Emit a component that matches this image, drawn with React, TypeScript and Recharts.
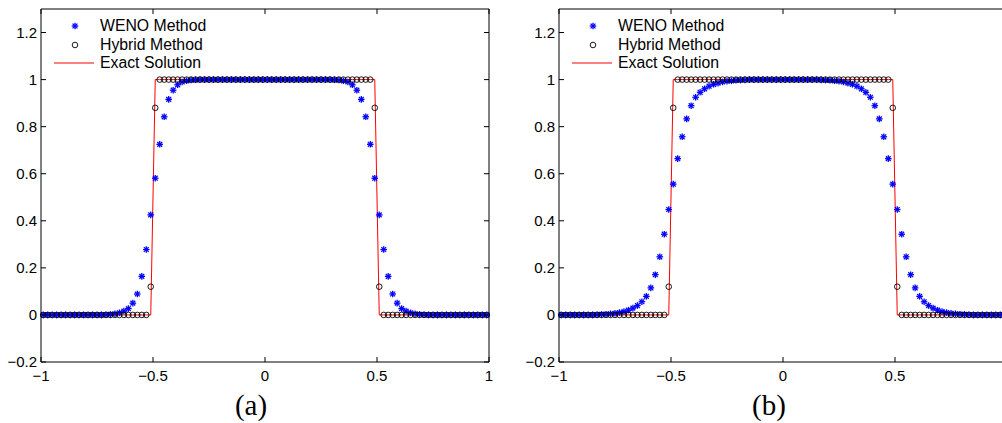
import React from 'react';
import { ComposedChart, Line, XAxis, YAxis, Legend } from 'recharts';

// cell centres, dx = 0.02
const xGrid = [
  -0.99, -0.97, -0.95, -0.93, -0.91, -0.89, -0.87, -0.85, -0.83, -0.81,
  -0.79, -0.77, -0.75, -0.73, -0.71, -0.69, -0.67, -0.65, -0.63, -0.61,
  -0.59, -0.57, -0.55, -0.53, -0.51, -0.49, -0.47, -0.45, -0.43, -0.41,
  -0.39, -0.37, -0.35, -0.33, -0.31, -0.29, -0.27, -0.25, -0.23, -0.21,
  -0.19, -0.17, -0.15, -0.13, -0.11, -0.09, -0.07, -0.05, -0.03, -0.01,
  0.01, 0.03, 0.05, 0.07, 0.09, 0.11, 0.13, 0.15, 0.17, 0.19,
  0.21, 0.23, 0.25, 0.27, 0.29, 0.31, 0.33, 0.35, 0.37, 0.39,
  0.41, 0.43, 0.45, 0.47, 0.49, 0.51, 0.53, 0.55, 0.57, 0.59,
  0.61, 0.63, 0.65, 0.67, 0.69, 0.71, 0.73, 0.75, 0.77, 0.79,
  0.81, 0.83, 0.85, 0.87, 0.89, 0.91, 0.93, 0.95, 0.97, 0.99,
];

const wenoA = [
  0, 0, 0, 0, 0, 0, 0, 0, 0, 0,
  0, 0, 0, 0, 0.001, 0.002, 0.005, 0.009, 0.016, 0.027,
  0.05, 0.089, 0.164, 0.278, 0.425, 0.581, 0.725, 0.842, 0.916, 0.955,
  0.978, 0.99, 0.995, 0.998, 0.999, 1, 1, 1, 1, 1,
  1, 1, 1, 1, 1, 1, 1, 1, 1, 1,
  1, 1, 1, 1, 1, 1, 1, 1, 1, 1,
  1, 1, 1, 1, 1, 0.999, 0.998, 0.995, 0.99, 0.978,
  0.955, 0.916, 0.842, 0.725, 0.581, 0.425, 0.278, 0.164, 0.089, 0.05,
  0.027, 0.016, 0.009, 0.005, 0.002, 0.001, 0, 0, 0, 0,
  0, 0, 0, 0, 0, 0, 0, 0, 0, 0,
];

const wenoB = [
  0, 0, 0, 0, 0, 0, 0, 0, 0.001, 0.002,
  0.003, 0.005, 0.007, 0.01, 0.014, 0.02, 0.029, 0.04, 0.056, 0.079,
  0.115, 0.171, 0.247, 0.343, 0.448, 0.556, 0.664, 0.757, 0.833, 0.889,
  0.925, 0.946, 0.961, 0.972, 0.98, 0.985, 0.99, 0.993, 0.995, 0.997,
  0.998, 0.999, 1, 1, 1, 1, 1, 1, 1, 1,
  1, 1, 1, 1, 1, 1, 1, 1, 0.999, 0.998,
  0.997, 0.995, 0.993, 0.99, 0.985, 0.98, 0.972, 0.961, 0.946, 0.925,
  0.889, 0.833, 0.757, 0.664, 0.556, 0.448, 0.343, 0.247, 0.171, 0.115,
  0.079, 0.056, 0.04, 0.029, 0.02, 0.014, 0.01, 0.007, 0.005, 0.003,
  0.002, 0.001, 0, 0, 0, 0, 0, 0, 0, 0,
];

const hybridValues = [
  0, 0, 0, 0, 0, 0, 0, 0, 0, 0,
  0, 0, 0, 0, 0, 0, 0, 0, 0, 0,
  0, 0, 0, 0, 0.12, 0.88, 1, 1, 1, 1,
  1, 1, 1, 1, 1, 1, 1, 1, 1, 1,
  1, 1, 1, 1, 1, 1, 1, 1, 1, 1,
  1, 1, 1, 1, 1, 1, 1, 1, 1, 1,
  1, 1, 1, 1, 1, 1, 1, 1, 1, 1,
  1, 1, 1, 1, 0.88, 0.12, 0, 0, 0, 0,
  0, 0, 0, 0, 0, 0, 0, 0, 0, 0,
  0, 0, 0, 0, 0, 0, 0, 0, 0, 0,
];

const exactValues = [
  0, 0, 0, 0, 0, 0, 0, 0, 0, 0,
  0, 0, 0, 0, 0, 0, 0, 0, 0, 0,
  0, 0, 0, 0, 0, 1, 1, 1, 1, 1,
  1, 1, 1, 1, 1, 1, 1, 1, 1, 1,
  1, 1, 1, 1, 1, 1, 1, 1, 1, 1,
  1, 1, 1, 1, 1, 1, 1, 1, 1, 1,
  1, 1, 1, 1, 1, 1, 1, 1, 1, 1,
  1, 1, 1, 1, 1, 0, 0, 0, 0, 0,
  0, 0, 0, 0, 0, 0, 0, 0, 0, 0,
  0, 0, 0, 0, 0, 0, 0, 0, 0, 0,
];

const xTicks = [-1, -0.5, 0, 0.5, 1];
const yTicks = [-0.2, 0, 0.2, 0.4, 0.6, 0.8, 1, 1.2];
const legendItems = [
  { name: 'WENO Method', kind: 'star' },
  { name: 'Hybrid Method', kind: 'circle' },
  { name: 'Exact Solution', kind: 'line' },
];

const FONT = '"Liberation Sans", Arial, Helvetica, sans-serif';
const fmt = (v: number) => String(v).replace('-', '\u2212');

const Star = ({ cx, cy }: { cx: number; cy: number }) => {
  const r = 3.3;
  const d = 2.4;
  return (
    <g stroke="#0000ff" strokeWidth={1.3}>
      <line x1={cx - r} y1={cy} x2={cx + r} y2={cy} />
      <line x1={cx} y1={cy - r} x2={cx} y2={cy + r} />
      <line x1={cx - d} y1={cy - d} x2={cx + d} y2={cy + d} />
      <line x1={cx - d} y1={cy + d} x2={cx + d} y2={cy - d} />
    </g>
  );
};

const Ring = ({ cx, cy }: { cx: number; cy: number }) => (
  <circle cx={cx} cy={cy} r={2.8} fill="none" stroke="#000" strokeWidth={0.9} />
);

// MATLAB-style ticks: short lines pointing into the box
const makeBottomTick = (maxX: number) => (props: any) => {
  const { x, y, payload } = props;
  return (
    <g>
      <line x1={x} y1={y} x2={x} y2={y - 5} stroke="#000" />
      {x < maxX && (
        <text x={x} y={y + 19} textAnchor="middle" fontSize={15} fontFamily={FONT} fill="#000">
          {fmt(payload.value)}
        </text>
      )}
    </g>
  );
};
const TopTick = (props: any) => (
  <line x1={props.x} y1={props.y} x2={props.x} y2={props.y + 5} stroke="#000" />
);
const LeftTick = (props: any) => {
  const { x, y, payload } = props;
  return (
    <g>
      <line x1={x} y1={y} x2={x + 5} y2={y} stroke="#000" />
      <text x={x - 4} y={y + 5} textAnchor="end" fontSize={15} fontFamily={FONT} fill="#000">
        {fmt(payload.value)}
      </text>
    </g>
  );
};
const RightTick = (props: any) => (
  <line x1={props.x} y1={props.y} x2={props.x - 5} y2={props.y} stroke="#000" />
);

const renderLegend = () => (
  <div style={{ fontFamily: FONT, fontSize: 15.8, color: '#000' }}>
    {legendItems.map((it) => (
      <div key={it.name} style={{ display: 'flex', alignItems: 'center', height: 18.5, whiteSpace: 'nowrap' }}>
        <svg width={46} height={18} style={{ flex: 'none' }}>
          {it.kind === 'star' && <Star cx={21} cy={9} />}
          {it.kind === 'circle' && <Ring cx={21} cy={9} />}
          {it.kind === 'line' && <line x1={0} y1={9} x2={40} y2={9} stroke="#ff0000" strokeWidth={1} />}
        </svg>
        <span>{it.name}</span>
      </div>
    ))}
  </div>
);

const Panel = ({ weno, label, left }: { weno: number[]; label: string; left: number }) => {
  const data = xGrid.map((x, i) => ({
    x,
    weno: weno[i],
    hybrid: hybridValues[i],
    exact: exactValues[i],
  }));
  // labels that would fall past the page edge are not drawn (as in the original figure)
  const BottomTick = makeBottomTick(1002 - left - 8);
  return (
    <div style={{ position: 'absolute', left, top: 0, width: 500, height: 423 }}>
      <ComposedChart width={500} height={423} data={data} margin={{ top: 8, right: 10, bottom: 60, left: 40 }}>
        <XAxis
          xAxisId="b"
          dataKey="x"
          type="number"
          domain={[-1, 1]}
          ticks={xTicks}
          interval={0}
          height={1}
          tickSize={0}
          tickMargin={0}
          tickLine={false}
          axisLine={{ stroke: '#000' }}
          tick={BottomTick}
        />
        <XAxis
          xAxisId="t"
          dataKey="x"
          type="number"
          orientation="top"
          domain={[-1, 1]}
          ticks={xTicks}
          interval={0}
          height={1}
          tickSize={0}
          tickMargin={0}
          tickLine={false}
          axisLine={{ stroke: '#000' }}
          tick={TopTick}
        />
        <YAxis
          yAxisId="l"
          type="number"
          domain={[-0.2, 1.3]}
          ticks={yTicks}
          interval={0}
          width={1}
          tickSize={0}
          tickMargin={0}
          tickLine={false}
          axisLine={{ stroke: '#000' }}
          tick={LeftTick}
          allowDataOverflow
        />
        <YAxis
          yAxisId="r"
          orientation="right"
          type="number"
          domain={[-0.2, 1.3]}
          ticks={yTicks}
          interval={0}
          width={1}
          tickSize={0}
          tickMargin={0}
          tickLine={false}
          axisLine={{ stroke: '#000' }}
          tick={RightTick}
          allowDataOverflow
        />
        <Legend
          layout="vertical"
          align="center"
          verticalAlign="middle"
          wrapperStyle={{ left: 54, top: 17, width: 200, height: 60 }}
          content={renderLegend}
        />
        <Line
          xAxisId="b"
          yAxisId="l"
          dataKey="weno"
          name="WENO Method"
          stroke="none"
          dot={(p: any) => <Star key={`s${p.index}`} cx={p.cx} cy={p.cy} />}
          activeDot={false}
          isAnimationActive={false}
        />
        <Line
          xAxisId="b"
          yAxisId="l"
          dataKey="hybrid"
          name="Hybrid Method"
          stroke="none"
          dot={(p: any) => <Ring key={`c${p.index}`} cx={p.cx} cy={p.cy} />}
          activeDot={false}
          isAnimationActive={false}
        />
        <Line
          xAxisId="b"
          yAxisId="l"
          type="linear"
          dataKey="exact"
          name="Exact Solution"
          stroke="#ff0000"
          strokeWidth={1}
          dot={false}
          activeDot={false}
          isAnimationActive={false}
        />
      </ComposedChart>
      <div
        style={{
          position: 'absolute',
          left: 0,
          width: 502,
          top: 387,
          textAlign: 'center',
          fontFamily: '"Liberation Serif", "DejaVu Serif", serif',
          fontSize: 29,
          lineHeight: '36px',
          color: '#000',
        }}
      >
        {label}
      </div>
    </div>
  );
};

export default function App() {
  return (
    <div style={{ position: 'absolute', left: 0, top: 0, width: 1002, height: 423, overflow: 'hidden', background: '#fff' }}>
      <Panel weno={wenoA} label="(a)" left={0} />
      <Panel weno={wenoB} label="(b)" left={518} />
    </div>
  );
}
